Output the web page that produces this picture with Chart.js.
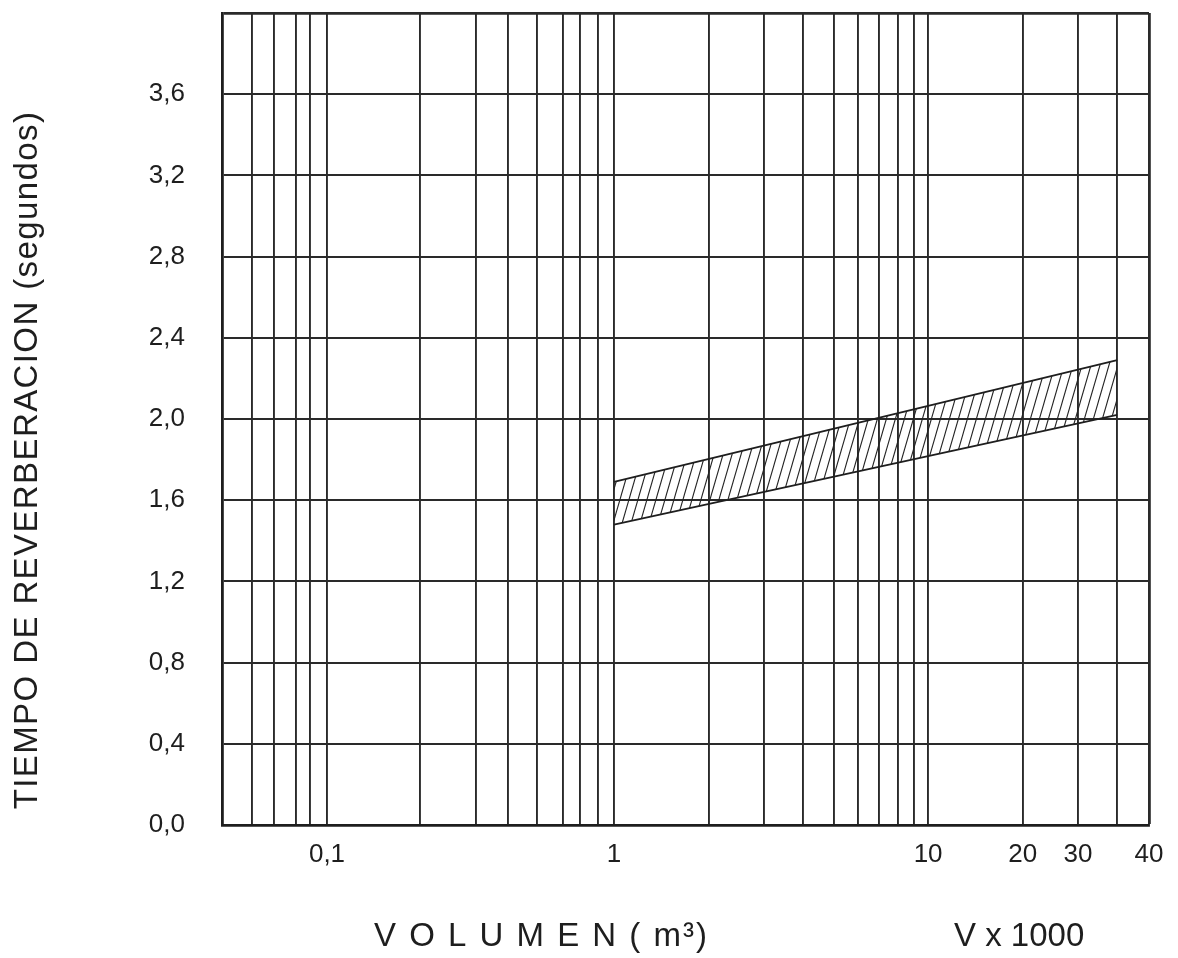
<!DOCTYPE html>
<html>
<head>
<meta charset="utf-8">
<script src="https://cdn.jsdelivr.net/npm/chart.js@4.4.1/dist/chart.umd.min.js"></script>
<style>
  html, body { margin: 0; padding: 0; background: #fff; }
  #wrap { width: 1178px; height: 958px; }
</style>
</head>
<body>
<div id="wrap"><canvas id="chart" width="1178" height="958"></canvas></div>
<script>
// band of recommended reverberation time
const bandVolume = [1, 40];
const bandUpper = [1.69, 2.29];
const bandLower = [1.48, 2.02];

// vertical grid lines as they sit on the hand drawn log paper
const xGridValues = [0.0703, 0.0826, 0.0971, 0.108, 0.122, 0.241, 0.364, 0.46, 0.569, 0.688, 0.779, 0.889,
  1, 2, 3, 4, 5, 6, 7, 8, 9, 10, 20, 30, 40, 50.5];
const xLabelValues = [0.122, 1, 10, 20, 30, 50.5];
const xLabelText = ['0,1', '1', '10', '20', '30', '40'];

const yTicks = [0, 0.4, 0.8, 1.2, 1.6, 2.0, 2.4, 2.8, 3.2, 3.6, 4.0];
const yTickLabels = ['0,0', '0,4', '0,8', '1,2', '1,6', '2,0', '2,4', '2,8', '3,2', '3,6', ''];

const FONT = '"Liberation Sans", Arial, sans-serif';
const INK = '#1e1e1e';

// diagonal hatch used to fill the band
function hatchPattern() {
  const w = 9, h = 31;
  const c = document.createElement('canvas');
  c.width = w; c.height = h;
  const g = c.getContext('2d');
  g.strokeStyle = '#222';
  g.lineWidth = 1.1;
  const e = 6;
  for (const o of [-w, 0, w]) {
    g.beginPath();
    g.moveTo(o - e * w / h, h + e);
    g.lineTo(o + w + e * w / h, -e);
    g.stroke();
  }
  return g.createPattern(c, 'repeat');
}

const titles = {
  id: 'titles',
  afterDraw(chart) {
    const ctx = chart.ctx;
    ctx.save();
    ctx.fillStyle = INK;
    ctx.font = '33px ' + FONT;
    ctx.textBaseline = 'alphabetic';

    ctx.save();
    ctx.translate(37, 460);
    ctx.rotate(-Math.PI / 2);
    ctx.textAlign = 'center';
    ctx.letterSpacing = '1.4px';
    ctx.fillText('TIEMPO DE REVERBERACION (segundos)', 0, 0);
    ctx.restore();

    ctx.textAlign = 'left';
    ctx.letterSpacing = '2px';
    ctx.fillText('V O L U M E N ( m³)', 374, 946);
    ctx.letterSpacing = '0px';
    ctx.fillText('V x 1000', 954, 946);
    ctx.restore();
  }
};

new Chart(document.getElementById('chart'), {
  type: 'line',
  data: {
    datasets: [
      {
        data: bandVolume.map((v, i) => ({ x: v, y: bandUpper[i] })),
        borderColor: '#1e1e1e',
        borderWidth: 1.7,
        pointRadius: 0,
        fill: '+1',
        backgroundColor: hatchPattern()
      },
      {
        data: bandVolume.map((v, i) => ({ x: v, y: bandLower[i] })),
        borderColor: '#1e1e1e',
        borderWidth: 1.7,
        pointRadius: 0,
        fill: false
      }
    ]
  },
  options: {
    responsive: false,
    animation: false,
    layout: { padding: { top: 13, right: 29, left: 0, bottom: 0 } },
    plugins: { legend: { display: false }, tooltip: { enabled: false } },
    scales: {
      x: {
        type: 'logarithmic',
        min: 0.0565,
        max: 50.5,
        afterBuildTicks: s => { s.ticks = xGridValues.map(v => ({ value: v })); },
        afterFit: s => { s.height = 133; s.paddingLeft = 0; s.paddingRight = 0; },
        grid: {
          color: '#2a2a2a',
          lineWidth: c => (c.tick && c.tick.value === 50.5 ? 2.8 : 1.9),
          drawTicks: false
        },
        border: { color: '#1e1e1e', width: 2.8 },
        ticks: {
          autoSkip: false,
          maxRotation: 0,
          minRotation: 0,
          padding: 14,
          color: INK,
          font: { family: FONT, size: 26 },
          callback: v => {
            const i = xLabelValues.indexOf(v);
            return i >= 0 ? xLabelText[i] : '';
          }
        }
      },
      y: {
        min: 0,
        max: 4,
        afterBuildTicks: s => { s.ticks = yTicks.map(v => ({ value: v })); },
        afterFit: s => { s.width = 222; s.paddingTop = 0; s.paddingBottom = 0; },
        grid: {
          color: '#2a2a2a',
          lineWidth: c => (c.tick && c.tick.value === 4 ? 2.8 : 1.9),
          drawTicks: false
        },
        border: { color: '#1e1e1e', width: 2.8 },
        ticks: {
          padding: 37,
          color: INK,
          font: { family: FONT, size: 26, lineHeight: 1 },
          callback: (v, i) => yTickLabels[i]
        }
      }
    }
  },
  plugins: [titles]
});
</script>
</body>
</html>
